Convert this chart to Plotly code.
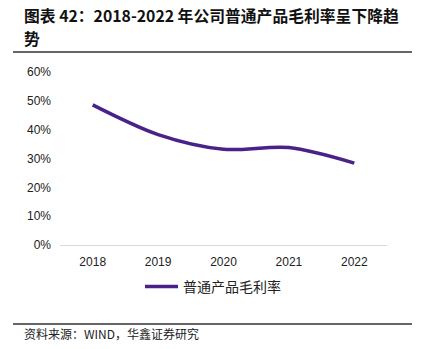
import plotly.graph_objects as go

# Gross margin of ordinary products, 2018-2022
years = ["2018", "2019", "2020", "2021", "2022"]
margin_pct = [48.6, 38.3, 33.2, 33.8, 28.4]
y_ticks = [0, 10, 20, 30, 40, 50, 60]
y_tick_labels = ["0%", "10%", "20%", "30%", "40%", "50%", "60%"]

series_name = "普通产品毛利率"
title_lines = ["图表 42：2018-2022 年公司普通产品毛利率呈下降趋", "势"]
source_text = "资料来源：WIND，华鑫证券研究"

W, H = 422, 349
L, R, T, B = 60, 35, 72, 104
plot_w = W - L - R
plot_h = H - T - B


def px_x(x):
    return (x - L) / plot_w


def px_y(y):
    return (H - B - y) / plot_h


fig = go.Figure()
fig.add_trace(go.Scatter(
    x=years, y=margin_pct, mode="lines", name=series_name,
    line=dict(color="#4a2287", width=3.5, shape="spline", smoothing=0.9),
))

title_annotations = [
    dict(text="<b>" + line + "</b>", xref="paper", yref="paper",
         x=px_x(22), y=px_y(yc), xanchor="left", yanchor="middle",
         align="left", showarrow=False,
         font=dict(family="Noto Sans CJK SC", size=15.8, color="#111"))
    for line, yc in zip(title_lines, [15, 38])
]

fig.update_layout(
    width=W, height=H,
    margin=dict(l=L, r=R, t=T, b=B),
    paper_bgcolor="white", plot_bgcolor="white",
    font=dict(family="Liberation Sans, Arial, sans-serif", size=12, color="#222"),
    showlegend=True,
    legend=dict(
        orientation="h", x=px_x(140), xanchor="left", y=px_y(287), yanchor="middle",
        font=dict(family="Noto Sans CJK SC", size=14, color="#222"),
        itemwidth=33,
    ),
    xaxis=dict(
        type="category", range=[-0.5, 4.5],
        showline=True, linecolor="#d9d9d9", linewidth=1,
        showgrid=False, ticks="", ticklabelstandoff=6,
        fixedrange=True,
    ),
    yaxis=dict(
        range=[0, 60], tickvals=y_ticks, ticktext=y_tick_labels,
        showgrid=False, zeroline=False, showline=False, ticks="",
        ticklabelstandoff=8,
    ),
    shapes=[
        dict(type="line", xref="paper", yref="paper",
             x0=px_x(13), x1=px_x(412), y0=px_y(52), y1=px_y(52),
             line=dict(color="#333", width=1.5)),
        dict(type="line", xref="paper", yref="paper",
             x0=px_x(13), x1=px_x(412), y0=px_y(324), y1=px_y(324),
             line=dict(color="#333", width=1.5)),
    ],
    annotations=title_annotations + [
        dict(text=source_text, xref="paper", yref="paper",
             x=px_x(22), y=px_y(333), xanchor="left", yanchor="middle",
             align="left", showarrow=False,
             font=dict(family="Noto Sans CJK SC", size=12, color="#222")),
    ],
)

fig.write_html("out.html")
